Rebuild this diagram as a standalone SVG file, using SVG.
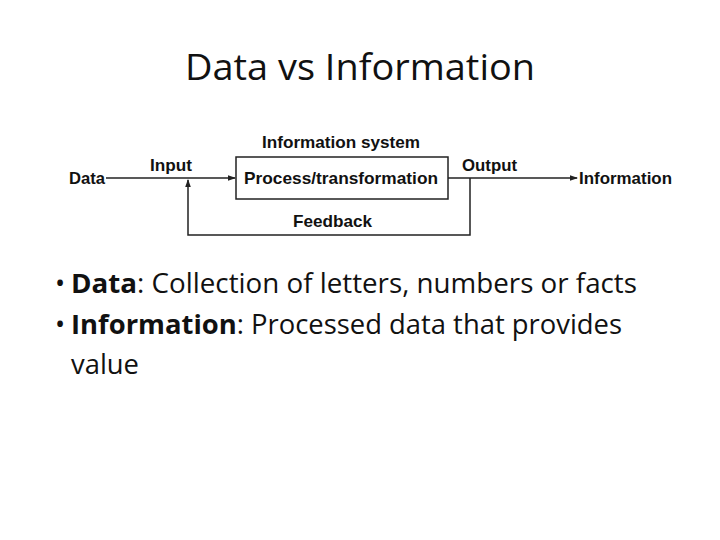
<svg xmlns="http://www.w3.org/2000/svg" width="720" height="540" viewBox="0 0 720 540">
<style>
.t{font-family:"Liberation Sans",Arial,sans-serif;font-weight:bold;font-size:16.5px;fill:#111}
.b{font-family:"Open Sans","Noto Sans",sans-serif;font-size:27px;fill:#111}
.ln{stroke:#222;stroke-width:1.5;fill:none}
</style>
<defs>
<marker id="ah" markerWidth="8" markerHeight="8" refX="7" refY="4" orient="auto" markerUnits="userSpaceOnUse">
<path d="M0,1.2 L8,4 L0,6.8 Z" fill="#222"/>
</marker>
</defs>
<rect width="720" height="540" fill="#fff"/>
<text x="360" y="80" text-anchor="middle" font-family="Open Sans, Noto Sans, sans-serif" font-size="36" fill="#111" textLength="350" lengthAdjust="spacingAndGlyphs">Data vs Information</text>
<g id="connectors">
<line class="ln" x1="106" y1="178" x2="235" y2="178" marker-end="url(#ah)"/>
<line class="ln" x1="448" y1="178" x2="577" y2="178" marker-end="url(#ah)"/>
<polyline class="ln" points="470,178 470,235 188,235 188,180" marker-end="url(#ah)"/>
</g>
<g id="node-system">
<rect x="236" y="157" width="212" height="42" fill="#fff" stroke="#222" stroke-width="1.5"/>
<text class="t" x="262" y="148" textLength="158" lengthAdjust="spacingAndGlyphs">Information system</text>
<text class="t" x="244" y="184" textLength="194" lengthAdjust="spacingAndGlyphs">Process/transformation</text>
</g>
<g id="node-data"><text class="t" x="69" y="184" textLength="36" lengthAdjust="spacingAndGlyphs">Data</text></g>
<g id="node-information"><text class="t" x="579" y="184" textLength="93" lengthAdjust="spacingAndGlyphs">Information</text></g>
<g id="labels">
<text class="t" x="150" y="171" textLength="42" lengthAdjust="spacingAndGlyphs">Input</text>
<text class="t" x="462" y="171" textLength="55" lengthAdjust="spacingAndGlyphs">Output</text>
<text class="t" x="293" y="227" textLength="79" lengthAdjust="spacingAndGlyphs">Feedback</text>
</g>
<g id="bullets">
<text class="b" x="55" y="293">•</text>
<text class="b" x="71" y="293" textLength="566" lengthAdjust="spacingAndGlyphs"><tspan font-weight="bold">Data</tspan>: Collection of letters, numbers or facts</text>
<text class="b" x="55" y="334">•</text>
<text class="b" x="71" y="334" textLength="551" lengthAdjust="spacingAndGlyphs"><tspan font-weight="bold">Information</tspan>: Processed data that provides</text>
<text class="b" x="71" y="374" textLength="68" lengthAdjust="spacingAndGlyphs">value</text>
</g>
</svg>
